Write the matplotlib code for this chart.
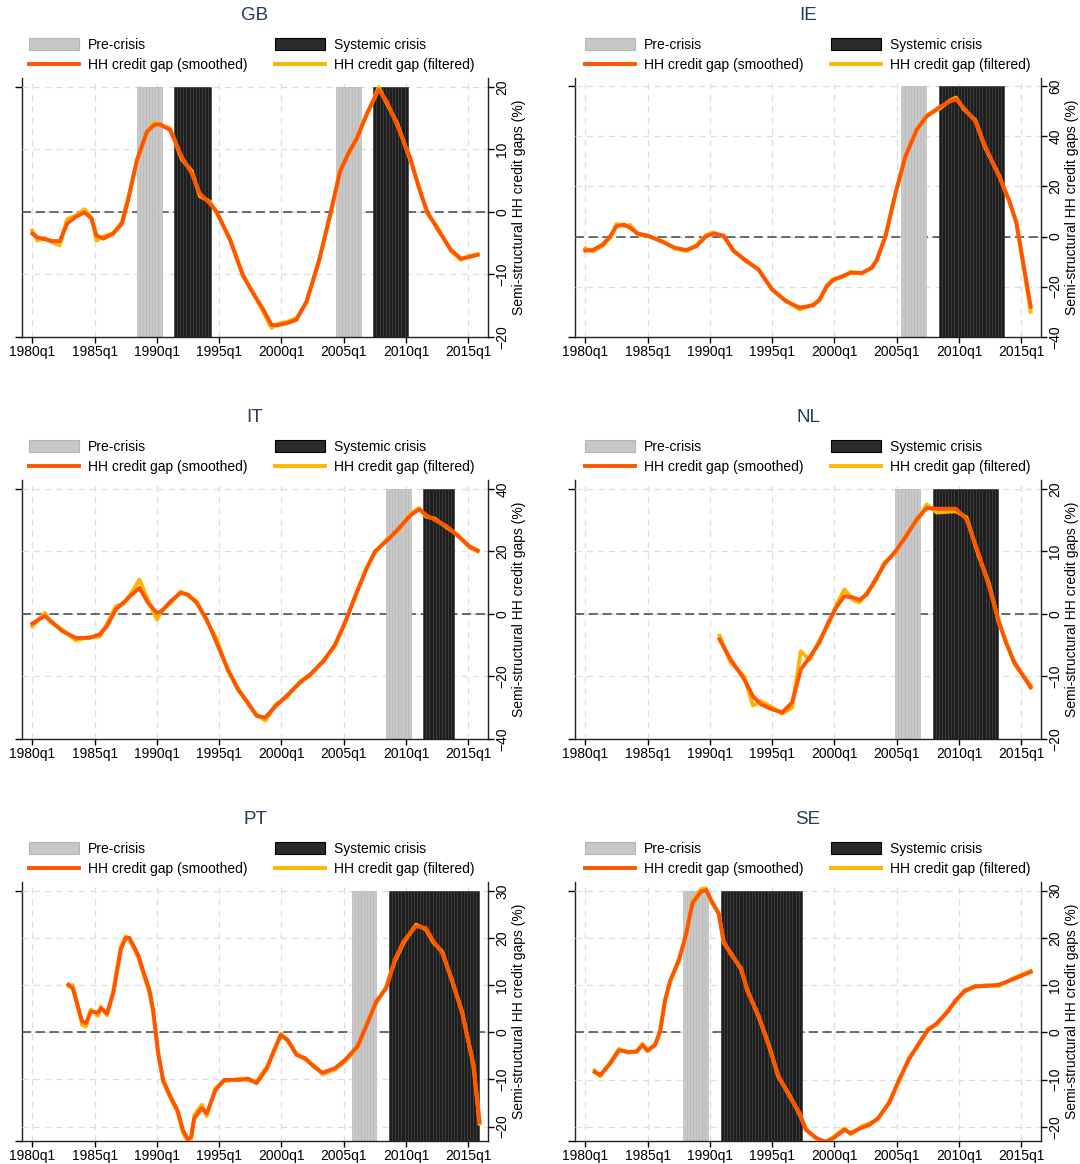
import numpy as np
import matplotlib.pyplot as plt
from matplotlib.patches import Patch
from matplotlib.lines import Line2D

plt.rcParams['font.family'] = ['Liberation Sans', 'DejaVu Sans']

# ---- data (time in decimal years, values in %) ----
gb_t = [1980.0, 1980.4, 1981.0, 1981.6, 1982.2, 1982.8, 1983.5, 1984.2, 1984.75, 1985.15,
        1985.7, 1986.5, 1987.2, 1987.7, 1988.4, 1989.2, 1989.8, 1990.25, 1991.05, 1992.0,
        1992.8, 1993.45, 1994.26, 1994.8, 1995.87, 1996.9, 1997.7, 1998.5, 1999.2, 1999.6,
        2000.5, 2001.2, 2002.0, 2003.0, 2003.9, 2004.7, 2005.4, 2006.05, 2006.85, 2007.8,
        2008.47, 2009.27, 2010.35, 2011.0, 2011.7, 2012.5, 2013.6, 2014.4, 2015.0, 2015.75]
gb_smooth = [-3.5, -4.1, -4.4, -4.7, -4.7, -1.9, -0.8, -0.1, -1.1, -3.8,
             -4.3, -3.5, -1.9, 1.9, 8.3, 12.8, 13.9, 14.0, 13.1, 8.8,
             6.1, 2.9, 1.3, 0.0, -4.5, -10.1, -13.0, -15.5, -18.1, -18.2,
             -17.8, -17.3, -14.4, -8.0, -0.5, 6.4, 9.5, 11.7, 15.7, 19.5,
             17.6, 13.9, 8.5, 4.0, 0.0, -2.7, -6.1, -7.5, -7.3, -6.9]
gb_filt = [-3.0, -4.6, -4.2, -4.9, -5.4, -1.2, -0.6, 0.4, -1.0, -4.6,
           -4.0, -3.4, -1.6, 2.3, 8.0, 12.6, 14.3, 13.8, 13.4, 8.4,
           6.5, 2.5, 1.6, -0.2, -4.3, -10.3, -12.8, -15.9, -18.6, -18.0,
           -17.6, -17.0, -14.6, -7.8, -0.8, 6.7, 9.2, 12.0, 15.4, 19.9,
           17.3, 14.2, 8.2, 4.3, -0.3, -2.4, -6.3, -7.7, -7.1, -6.8]
gb_pre = [('1988q3', '1990q2'), ('2004q3', '2006q2')]
gb_crisis = [('1991q3', '1994q2'), ('2007q3', '2010q1')]

ie_t = [1980.0, 1980.6, 1981.4, 1982.0, 1982.5, 1983.1, 1983.6, 1984.2, 1985.0, 1986.1,
        1987.2, 1988.1, 1988.9, 1989.7, 1990.3, 1991.1, 1991.9, 1992.8, 1993.9, 1995.0,
        1996.1, 1997.2, 1998.3, 1998.8, 1999.4, 1999.9, 2000.8, 2001.3, 2002.2, 2003.0,
        2003.4, 2004.1, 2004.9, 2005.7, 2006.6, 2007.4, 2008.4, 2009.3, 2009.75, 2010.4,
        2011.3, 2012.1, 2013.2, 2014.0, 2014.6, 2015.75]
ie_smooth = [-5.6, -5.4, -3.2, 0.1, 4.1, 4.8, 3.5, 1.2, 0.4, -1.9,
             -4.5, -5.4, -3.9, 0.1, 1.2, 0.4, -5.8, -9.2, -13.2, -21.1,
             -25.8, -28.4, -27.5, -25.1, -19.8, -17.4, -15.5, -14.5, -14.5, -12.5,
             -9.2, 0.1, 17.4, 32.0, 42.7, 48.0, 51.6, 54.0, 54.9, 51.3,
             46.0, 36.0, 24.1, 14.8, 5.4, -28.0]
ie_filt = [-4.8, -6.0, -3.6, -0.5, 5.0, 4.2, 4.6, 0.8, 0.2, -1.6,
           -4.8, -5.8, -3.5, 0.6, 1.6, 0.0, -5.4, -9.6, -13.0, -21.4,
           -25.5, -29.2, -27.0, -25.6, -19.4, -17.0, -15.8, -14.0, -14.9, -12.2,
           -9.6, 0.5, 17.0, 32.5, 42.3, 48.4, 51.0, 54.4, 55.5, 50.8,
           46.5, 35.5, 24.5, 14.3, 6.0, -30.0]
ie_pre = [('2005q3', '2007q2')]
ie_crisis = [('2008q3', '2013q3')]

it_t = [1980.0, 1981.0, 1981.5, 1982.4, 1983.5, 1984.6, 1985.4, 1986.0, 1986.7, 1987.3,
        1988.0, 1988.6, 1989.3, 1990.0, 1990.4, 1991.1, 1991.9, 1992.5, 1993.2, 1994.0,
        1994.8, 1995.7, 1996.5, 1997.3, 1998.0, 1998.7, 1999.55, 2000.4, 2001.5, 2002.3,
        2003.4, 2004.3, 2005.1, 2005.9, 2006.8, 2007.5, 2008.4, 2009.3, 2010.4, 2011.05,
        2011.6, 2012.3, 2013.3, 2014.2, 2015.1, 2015.75]
it_smooth = [-3.1, -0.7, -2.3, -5.5, -7.7, -7.7, -6.6, -3.9, 1.4, 3.5,
             6.2, 8.3, 3.5, 0.3, 0.9, 4.0, 6.7, 6.2, 3.5, -1.8,
             -9.3, -17.8, -24.2, -28.4, -32.7, -33.2, -29.5, -26.3, -22.0, -19.4,
             -15.1, -9.8, -2.9, 5.6, 14.2, 20.0, 23.2, 26.9, 31.7, 33.5,
             31.7, 30.1, 28.0, 24.8, 21.6, 20.3]
it_filt = [-4.0, 0.3, -2.8, -5.0, -8.5, -7.4, -7.3, -3.2, 2.4, 3.2,
           7.0, 11.0, 4.3, -1.8, 1.2, 3.4, 7.2, 5.8, 4.0, -2.3,
           -8.0, -18.3, -23.7, -28.9, -32.2, -34.2, -29.0, -26.8, -21.6, -19.8,
           -14.7, -10.3, -2.5, 5.1, 14.6, 19.6, 23.7, 26.4, 32.2, 33.9,
           31.2, 30.5, 27.6, 25.2, 21.2, 20.0]
it_pre = [('2008q3', '2010q2')]
it_crisis = [('2011q3', '2013q4')]

nl_t = [1990.77, 1991.66, 1992.76, 1993.45, 1994.1, 1995.0, 1995.8, 1996.6, 1997.3, 1998.0,
        1998.8, 1999.5, 2000.2, 2000.8, 2001.5, 2002.0, 2002.6, 2003.3, 2004.0, 2004.9,
        2005.75, 2006.6, 2007.4, 2008.2, 2009.75, 2010.6, 2011.55, 2012.4, 2013.2, 2013.75,
        2014.45, 2015.75]
nl_smooth = [-4.1, -7.3, -10.5, -13.2, -14.5, -15.3, -15.8, -14.2, -8.9, -7.0,
             -4.6, -1.4, 1.2, 2.8, 2.6, 2.2, 3.1, 5.5, 7.9, 10.0,
             12.4, 15.1, 16.9, 16.8, 16.8, 15.1, 9.7, 4.4, -1.2, -4.6,
             -7.8, -11.8]
nl_filt = [-3.5, -7.8, -10.0, -14.7, -14.0, -15.0, -16.0, -15.0, -6.0, -7.4,
           -4.2, -1.8, 1.6, 3.9, 2.2, 1.8, 3.4, 5.2, 8.2, 9.7,
           12.7, 14.8, 17.5, 16.2, 16.4, 15.4, 9.4, 4.8, -1.5, -4.3,
           -8.1, -11.5]
nl_pre = [('2005q1', '2006q4')]
nl_crisis = [('2008q1', '2013q1')]

pt_t = [1982.9, 1983.25, 1984.0, 1984.3, 1984.7, 1985.3, 1985.5, 1986.0, 1986.5, 1987.1,
        1987.5, 1987.8, 1988.5, 1989.0, 1989.4, 1989.7, 1990.1, 1990.5, 1991.1, 1991.65,
        1992.1, 1992.5, 1992.75, 1993.0, 1993.6, 1994.0, 1994.7, 1995.4, 1996.8, 1997.3,
        1998.0, 1998.85, 1999.4, 1999.95, 2000.5, 2001.2, 2001.9, 2002.6, 2003.3, 2004.3,
        2005.1, 2006.1, 2006.9, 2007.6, 2008.4, 2009.1, 2009.8, 2010.8, 2011.6, 2012.2,
        2012.9, 2013.7, 2014.5, 2015.4, 2015.9]
pt_smooth = [10.1, 9.3, 2.3, 1.9, 4.4, 4.2, 5.1, 4.0, 8.3, 17.5,
             20.0, 20.0, 16.4, 12.2, 9.0, 4.7, -4.5, -10.1, -13.7, -16.5,
             -20.8, -22.7, -22.2, -18.3, -16.1, -17.2, -12.3, -10.1, -10.1, -9.8,
             -10.8, -7.6, -3.8, -0.6, -1.6, -4.8, -5.5, -7.3, -8.6, -7.6,
             -5.9, -3.0, 1.9, 6.5, 9.3, 15.4, 19.3, 22.5, 22.1, 19.3,
             16.8, 11.1, 4.0, -6.6, -19.0]
pt_filt = [9.8, 10.0, 1.6, 1.2, 4.8, 3.5, 5.4, 3.6, 8.8, 18.0,
           20.4, 19.6, 16.0, 11.6, 8.4, 4.2, -4.0, -10.5, -14.0, -16.9,
           -21.4, -23.2, -22.6, -17.6, -15.4, -17.8, -11.8, -10.4, -9.8, -10.2,
           -10.5, -7.2, -4.2, -0.3, -1.9, -4.5, -5.8, -7.0, -8.9, -7.9,
           -6.2, -3.3, 2.2, 6.2, 9.6, 15.1, 19.0, 22.8, 21.8, 19.0,
           17.1, 10.8, 4.3, -6.9, -19.4]
pt_pre = [('2005q4', '2007q3')]
pt_crisis = [('2008q4', '2015q4')]

se_t = [1980.75, 1981.2, 1982.0, 1982.7, 1983.4, 1984.1, 1984.6, 1985.0, 1985.6, 1986.0,
        1986.4, 1986.8, 1987.5, 1988.1, 1988.6, 1989.3, 1989.7, 1990.1, 1990.7, 1991.1,
        1991.65, 1992.5, 1993.0, 1993.9, 1994.7, 1995.5, 1996.35, 1997.2, 1997.7, 1998.6,
        1999.25, 1999.9, 2000.8, 2001.3, 2002.15, 2002.85, 2003.5, 2004.4, 2005.2, 2006.0,
        2006.85, 2007.5, 2008.2, 2009.1, 2009.75, 2010.45, 2011.3, 2012.1, 2013.2, 2014.3,
        2015.75]
se_smooth = [-8.4, -9.0, -6.6, -3.8, -4.1, -4.1, -2.7, -3.8, -2.7, 0.1,
             6.6, 10.9, 15.1, 20.9, 27.3, 29.8, 30.1, 28.0, 25.1, 19.4,
             16.6, 13.7, 8.7, 3.7, -2.7, -9.1, -13.4, -17.0, -20.6, -22.4,
             -23.1, -22.4, -20.6, -21.3, -20.2, -19.5, -18.1, -14.9, -9.9, -5.6,
             -2.0, 0.5, 1.9, 4.4, 6.9, 8.7, 9.8, 9.8, 10.1, 11.2,
             12.8]
se_filt = [-8.0, -9.3, -6.3, -3.5, -4.3, -4.0, -2.4, -4.0, -2.5, 0.4,
           7.0, 10.5, 15.5, 20.5, 27.8, 30.3, 30.5, 27.6, 25.4, 19.0,
           16.9, 13.4, 9.0, 3.4, -2.4, -9.4, -13.1, -17.3, -20.3, -22.7,
           -23.4, -22.1, -20.3, -21.6, -19.9, -19.2, -18.4, -14.6, -10.2, -5.3,
           -2.3, 0.8, 1.6, 4.7, 6.6, 9.0, 9.5, 10.0, 9.8, 11.4,
           13.0]
se_pre = [('1988q1', '1989q4')]
se_crisis = [('1991q1', '1997q2')]

# y axis ticks and plot range per panel
gb_yticks, gb_ylim = [-20, -10, 0, 10, 20], (-20, 21.35)
ie_yticks, ie_ylim = [-40, -20, 0, 20, 40, 60], (-40, 63.2)
it_yticks, it_ylim = [-40, -20, 0, 20, 40], (-40, 42.8)
nl_yticks, nl_ylim = [-20, -10, 0, 10, 20], (-20, 21.35)
pt_yticks, pt_ylim = [-20, -10, 0, 10, 20, 30], (-23.0, 31.8)
se_yticks, se_ylim = [-20, -10, 0, 10, 20, 30], (-22.9, 31.75)

xticks = [1980, 1985, 1990, 1995, 2000, 2005, 2010, 2015]
xlabels = ['%dq1' % y for y in xticks]

SMOOTH = '#ff5500'
FILT = '#ffb400'
PRE = '#c8c8c8'
CRISIS = '#1e1e1e'


def qdate(s):
    y, q = s.split('q')
    return int(y) + (int(q) - 1) / 4


def quarters(periods):
    out = []
    for a, b in periods:
        out += list(np.arange(qdate(a), qdate(b) + 0.01, 0.25))
    return out


W, H = 1080, 1164
fig = plt.figure(figsize=(W / 100, H / 100), dpi=100)


def panel(r, c, name, t, sm, fl, pre, cri, yticks, ylim):
    x0, x1 = 21.7 + 553 * c, 488.3 + 553 * c
    y0, y1 = 78.3 + 402 * r, 336.7 + 402 * r
    ax = fig.add_axes([x0 / W, 1 - y1 / H, (x1 - x0) / W, (y1 - y0) / H])
    ax.set_xlim(1979.15, 2016.6)
    ax.set_ylim(*ylim)
    top = yticks[-1]

    ax.set_axisbelow(True)
    ax.grid(True, color='#dedede', lw=0.9, ls=(0, (5, 4)))
    ax.axhline(0, color='#444444', lw=1.1, ls=(0, (6, 3)), zorder=1)

    ax.bar(quarters(pre), top - ylim[0], bottom=ylim[0], width=0.25, align='center',
           color=PRE, edgecolor='#b9b9b9', lw=0.5, zorder=2)
    ax.bar(quarters(cri), top - ylim[0], bottom=ylim[0], width=0.25, align='center',
           color=CRISIS, edgecolor='#3d3d3d', lw=0.5, zorder=2)

    ax.plot(t, fl, color=FILT, lw=2.8, zorder=3, solid_joinstyle='round')
    ax.plot(t, sm, color=SMOOTH, lw=2.8, zorder=4, solid_joinstyle='round')

    ax.set_xticks(xticks)
    ax.set_xticklabels(xlabels)
    ax.yaxis.tick_right()
    ax.yaxis.set_label_position('right')
    ax.set_yticks(yticks)
    ax.tick_params(axis='x', length=4, width=1, pad=2, labelsize=10)
    ax.tick_params(axis='y', length=4, width=1, pad=1, labelsize=10, labelrotation=90)
    for lab in ax.get_yticklabels():
        lab.set_va('center')
    ax.set_ylabel('Semi-structural HH credit gaps (%)', fontsize=10, labelpad=2)

    ax.spines['top'].set_visible(False)
    ax.spines['left'].set_visible(False)
    for s in ['bottom', 'right']:
        ax.spines[s].set_color('#222222')
        ax.spines[s].set_linewidth(1.0)

    sec = ax.secondary_yaxis('left')
    sec.set_yticks([ylim[0], top])
    sec.set_yticklabels(['', ''])
    sec.tick_params(length=5, width=1)
    sec.spines['left'].set_color('#222222')
    sec.spines['left'].set_linewidth(1.0)

    fig.text((x0 + x1) / 2 / W, 1 - (15 + 402 * r) / H, name, ha='center', va='center',
             fontsize=13.5, color='#243a5e')

    h_pre = Patch(facecolor=PRE, edgecolor='#b5b5b5', lw=0.8)
    h_cri = Patch(facecolor='#2b2b2b', edgecolor='#000000', lw=0.8)
    h_sm = Line2D([], [], color=SMOOTH, lw=2.8)
    h_fl = Line2D([], [], color=FILT, lw=2.8)
    groups = [([h_pre, h_sm], ['Pre-crisis', 'HH credit gap (smoothed)'], 29),
              ([h_cri, h_fl], ['Systemic crisis', 'HH credit gap (filtered)'], 275)]
    for i, (hs, labs, lx) in enumerate(groups):
        leg = ax.legend(hs, labs, loc='upper left',
                        bbox_to_anchor=((lx + 556 * c) / W, 1 - (38 + 402 * r) / H),
                        bbox_transform=fig.transFigure, frameon=False, fontsize=10,
                        handlelength=3.6, handleheight=1.0, handletextpad=0.65,
                        labelspacing=0.45, borderpad=0, borderaxespad=0)
        if i == 0:
            ax.add_artist(leg)


panel(0, 0, 'GB', gb_t, gb_smooth, gb_filt, gb_pre, gb_crisis, gb_yticks, gb_ylim)
panel(0, 1, 'IE', ie_t, ie_smooth, ie_filt, ie_pre, ie_crisis, ie_yticks, ie_ylim)
panel(1, 0, 'IT', it_t, it_smooth, it_filt, it_pre, it_crisis, it_yticks, it_ylim)
panel(1, 1, 'NL', nl_t, nl_smooth, nl_filt, nl_pre, nl_crisis, nl_yticks, nl_ylim)
panel(2, 0, 'PT', pt_t, pt_smooth, pt_filt, pt_pre, pt_crisis, pt_yticks, pt_ylim)
panel(2, 1, 'SE', se_t, se_smooth, se_filt, se_pre, se_crisis, se_yticks, se_ylim)

fig.savefig('out.png', dpi=100)
